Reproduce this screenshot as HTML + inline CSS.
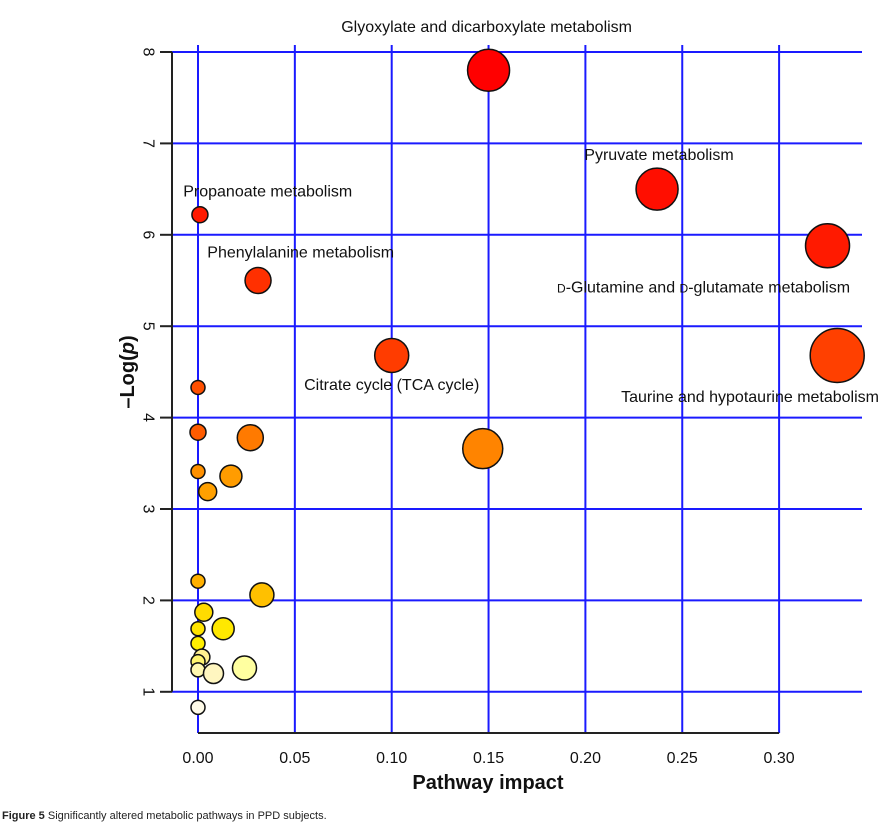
<!DOCTYPE html>
<html><head><meta charset="utf-8"><style>
body{margin:0;background:#fff;width:886px;height:829px;overflow:hidden;font-family:"Liberation Sans",sans-serif}
svg{position:absolute;left:0;top:0}
.cap{position:absolute;left:2px;top:810px;font-size:11px;color:#222}
</style></head><body>
<svg id="chart" width="886" height="829"></svg>
<div class="cap"><b>Figure 5</b> Significantly altered metabolic pathways in PPD subjects.</div>
<script>
const impact=[0.150,0.237,0.325,0.330,0.001,0.031,0.100,0.147,0.000,0.000,0.027,0.000,0.017,0.005,0.000,0.033,0.003,0.000,0.013,0.000,0.002,0.000,0.000,0.008,0.024,0.000];
const logp=[7.80,6.50,5.88,4.68,6.22,5.50,4.68,3.66,4.33,3.84,3.78,3.41,3.36,3.19,2.21,2.06,1.87,1.69,1.69,1.53,1.38,1.33,1.24,1.20,1.26,0.83];
const radius=[21,21,22,27,8,13,17,20,7,8,13,7,11,9,7,12,9,7,11,7,8,7,7,10,12,7];
const colors=["#ff0000","#ff0e00","#ff1a00","#ff4000","#ff1a00","#ff3000","#ff3c00","#ff8400","#ff5000","#ff5c00","#ff7a00","#ff9000","#ff9c00","#ffa000","#ffb000","#ffc000","#ffdc00","#ffe400","#ffe800","#ffee00","#fff090","#fff470","#fff8b0","#fff6c0","#ffffa0","#fffbe8"];
const xTicks=[0,0.05,0.10,0.15,0.20,0.25,0.30];
const xTickLabels=["0.00","0.05","0.10","0.15","0.20","0.25","0.30"];
const yTicks=[1,2,3,4,5,6,7,8];
const labelText=["Glyoxylate and dicarboxylate metabolism","Pyruvate metabolism","Propanoate metabolism","Phenylalanine metabolism","D-Glutamine and D-glutamate metabolism","Citrate cycle (TCA cycle)","Taurine and hypotaurine metabolism"];
const labelX=[0.149,0.238,0.036,0.053,0.261,0.100,0.285];
const labelY=[8.22,6.82,6.42,5.75,5.37,4.30,4.17];
const X=v=>198+v*1937, Y=v=>52+(8-v)*91.4;
const svg=document.getElementById('chart'),NS="http://www.w3.org/2000/svg";
function mk(t,a){const e=document.createElementNS(NS,t);for(const k in a)e.setAttribute(k,a[k]);svg.appendChild(e);return e;}
xTicks.forEach((v,i)=>{const l=mk('line',{x1:X(v),x2:X(v),y1:45,y2:733,stroke:'#1a1aff','stroke-width':2});


const t=mk('text',{x:X(v),y:763,'text-anchor':'middle','font-size':16,fill:'#111'});t.textContent=xTickLabels[i];

});
yTicks.forEach(v=>{const l=mk('line',{x1:172,x2:862,y1:Y(v),y2:Y(v),stroke:'#1a1aff','stroke-width':2});


mk('line',{x1:160,x2:172,y1:Y(v),y2:Y(v),stroke:'#222','stroke-width':2});
const t=mk('text',{x:0,y:0,transform:`translate(148,${Y(v)}) rotate(90)`,'text-anchor':'middle','dominant-baseline':'central','font-size':16,fill:'#111'});t.textContent=v;

});
const ya=mk('line',{x1:172,x2:172,y1:Y(8),y2:Y(1),stroke:'#222','stroke-width':2});


const xa=mk('line',{x1:X(0),x2:X(0.30),y1:733,y2:733,stroke:'#222','stroke-width':2});


impact.forEach((v,i)=>{const c=mk('circle',{cx:X(v),cy:Y(logp[i]),r:radius[i],fill:colors[i],stroke:'#111','stroke-width':1.5});

});
labelText.forEach((s,i)=>{const t=mk('text',{x:X(labelX[i]),y:Y(labelY[i]),'text-anchor':'middle','font-size':16,fill:'#111'});
if(s.startsWith('D-')){t.innerHTML='<tspan font-size="12">D</tspan>-Glutamine and <tspan font-size="12">D</tspan>-glutamate metabolism';}else t.textContent=s;

});
const xt=mk('text',{x:488,y:789,'text-anchor':'middle','font-size':20,'font-weight':'bold',fill:'#111'});xt.textContent='Pathway impact';


const yt=mk('text',{x:0,y:0,transform:'translate(134,372) rotate(-90)','text-anchor':'middle','font-size':20,'font-weight':'bold',fill:'#111'});yt.innerHTML='–Log(<tspan font-style="italic">p</tspan>)';


</script>
</body></html>
